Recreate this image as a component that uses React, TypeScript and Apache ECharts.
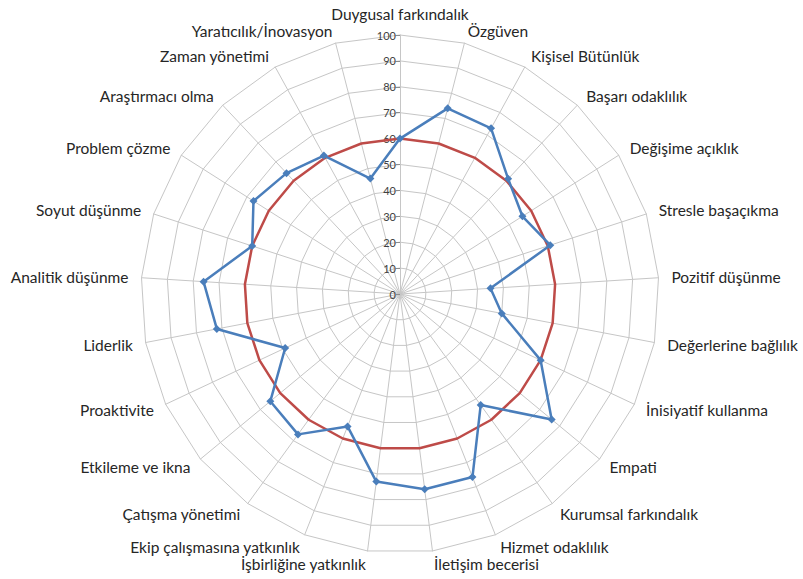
import React, { useEffect, useRef } from "react";
import * as echarts from "echarts";

// Indicators in clockwise order starting from the top
const categories: string[] = [
  "Duygusal farkındalık",
  "Özgüven",
  "Kişisel Bütünlük",
  "Başarı odaklılık",
  "Değişime açıklık",
  "Stresle başaçıkma",
  "Pozitif düşünme",
  "Değerlerine bağlılık",
  "İnisiyatif kullanma",
  "Empati",
  "Kurumsal farkındalık",
  "Hizmet odaklılık",
  "İletişim becerisi",
  "İşbirliğine yatkınlık",
  "Ekip çalışmasına yatkınlık",
  "Çatışma yönetimi",
  "Etkileme ve ikna",
  "Proaktivite",
  "Liderlik",
  "Analitik düşünme",
  "Soyut düşünme",
  "Problem çözme",
  "Araştırmacı olma",
  "Zaman yönetimi",
  "Yaratıcılık/İnovasyon",
];

const blueValues: number[] = [
  60, 74, 73, 61, 56, 61, 35, 40, 60, 76, 53, 76, 76, 73, 55, 67, 65, 49, 72, 76,
  60, 67, 64, 61, 46,
];

const redValues: number[] = [
  60, 60, 60, 60, 60, 60, 60, 60, 60, 60, 60, 60, 60, 60, 60, 60, 60, 60, 60, 60,
  60, 60, 60, 60, 60,
];

const axisMin = 0;
const axisMax = 100;
const axisSplits = 10;

// ECharts radar runs counter-clockwise; reorder so the chart reads clockwise
function clockwise<T>(arr: T[]): T[] {
  return [arr[0], ...arr.slice(1).reverse()];
}

export default function App() {
  const ref = useRef<HTMLDivElement>(null);

  useEffect(() => {
    if (!ref.current) return;
    const chart = echarts.init(ref.current, undefined, { renderer: "svg" });
    const grid = "#c6c6c6";
    const indicator = clockwise(categories).map((name, i) => ({
      name,
      min: axisMin,
      max: axisMax,
      ...(i === 0
        ? {
            axisLabel: { show: true },
            axisTick: { show: true },
          }
        : {}),
    }));

    chart.setOption({
      animation: false,
      backgroundColor: "#ffffff",
      radar: {
        center: [400, 294],
        radius: 259,
        startAngle: 90,
        shape: "polygon",
        splitNumber: axisSplits,
        indicator,
        axisName: {
          color: "#262626",
          fontSize: 15.5,
          fontFamily: "Lato, 'Open Sans', sans-serif",
        },
        nameGap: 13,
        axisLine: { show: true, lineStyle: { color: grid, width: 1 } },
        splitLine: { show: true, lineStyle: { color: grid, width: 1 } },
        splitArea: { show: false },
        axisTick: { show: false, length: 4, lineStyle: { color: "#8c8c8c" } },
        axisLabel: {
          show: false,
          color: "#404040",
          fontSize: 11,
          fontFamily: "Lato, 'Open Sans', sans-serif",
          margin: 4,
        },
      },
      series: [
        {
          type: "radar",
          symbol: "none",
          lineStyle: { color: "#be4b48", width: 2.5 },
          itemStyle: { color: "#be4b48" },
          data: [{ value: clockwise(redValues), name: "Hedef" }],
          z: 2,
        },
        {
          type: "radar",
          symbol: "diamond",
          symbolSize: 8,
          lineStyle: { color: "#4a7ebb", width: 2.5 },
          itemStyle: { color: "#4a7ebb" },
          data: [{ value: clockwise(blueValues), name: "Sonuç" }],
          z: 3,
        },
      ],
    });
    return () => chart.dispose();
  }, []);

  return (
    <div
      ref={ref}
      style={{ position: "absolute", left: 0, top: 0, width: 803, height: 579 }}
    />
  );
}
